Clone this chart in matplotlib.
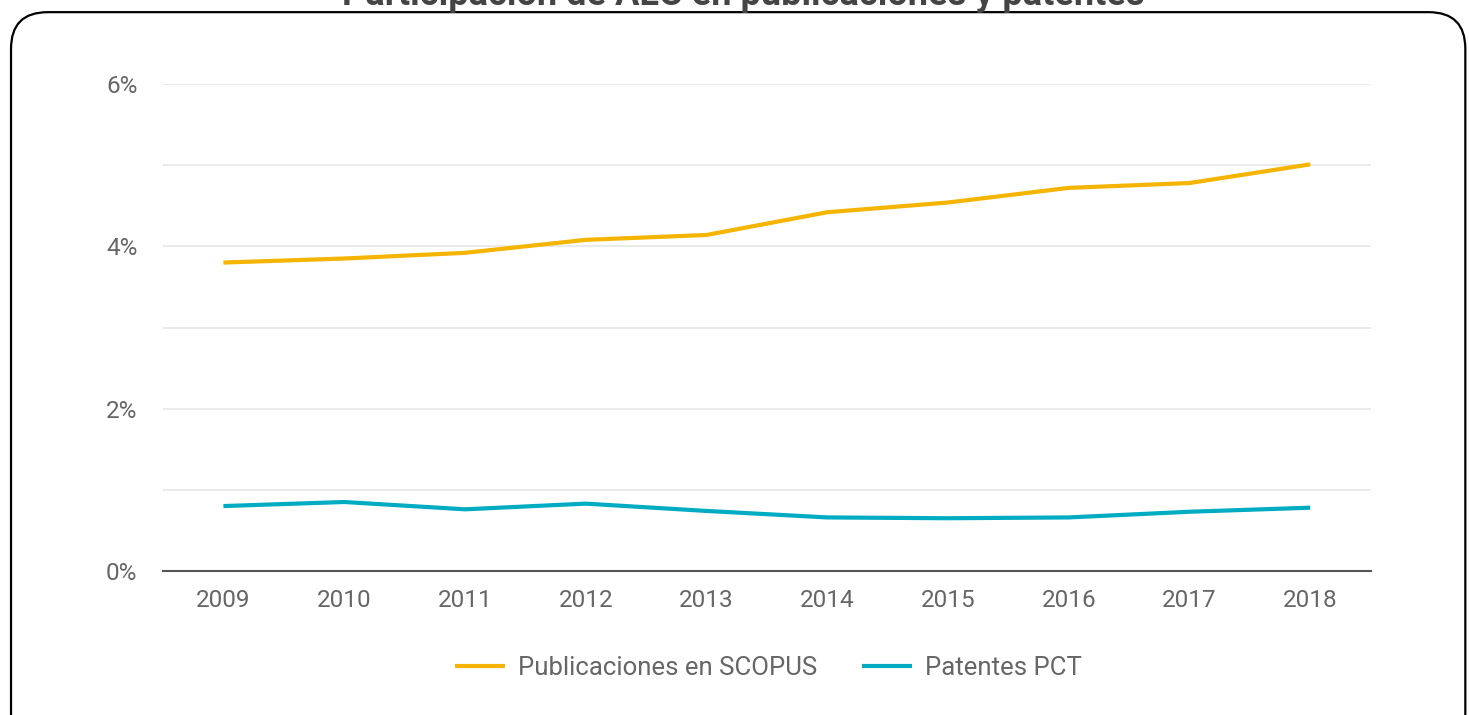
import matplotlib.pyplot as plt
from matplotlib.patches import FancyBboxPatch
from matplotlib.ticker import FuncFormatter

plt.rcParams['font.family'] = ['Roboto', 'DejaVu Sans']

years = ['2009', '2010', '2011', '2012', '2013', '2014', '2015', '2016', '2017', '2018']
scopus = [3.80, 3.85, 3.92, 4.08, 4.14, 4.42, 4.54, 4.72, 4.78, 5.01]
pct = [0.80, 0.85, 0.76, 0.83, 0.74, 0.66, 0.65, 0.66, 0.73, 0.78]

fig = plt.figure(figsize=(14.69, 7.15), dpi=100)
ax = fig.add_axes([0.111, 0.2014, 0.822, 0.6811])

x = range(len(years))
ax.plot(x, scopus, color='#F4B400', lw=3, label='Publicaciones en SCOPUS', solid_capstyle='butt')
ax.plot(x, pct, color='#00ACC1', lw=3, label='Patentes PCT', solid_capstyle='butt')

ax.set_xlim(-0.5, len(years) - 0.5)
ax.set_ylim(0, 6)
ax.set_xticks(list(x))
ax.set_xticklabels(years)
ax.set_yticks([0, 2, 4, 6])
ax.set_yticks([1, 3, 5], minor=True)
ax.yaxis.set_major_formatter(FuncFormatter(lambda v, p: f'{v:.0f}%'))
ax.grid(axis='y', which='both', color='#e6e6e6', lw=1.2)
ax.set_axisbelow(True)
ax.tick_params(axis='both', which='both', length=0, labelsize=17.5, labelcolor='#666666')
ax.tick_params(axis='x', pad=13)
ax.tick_params(axis='y', pad=18.5)
for s in ['top', 'right', 'left']:
    ax.spines[s].set_visible(False)
ax.spines['bottom'].set_color('#555555')
ax.spines['bottom'].set_linewidth(1.5)

leg = fig.legend(loc='center', bbox_to_anchor=(0.523, 0.066), ncol=2, frameon=False,
                 fontsize=18.5, handlelength=1.95, columnspacing=1.75, handletextpad=0.5)
for t in leg.get_texts():
    t.set_color('#666666')

fig.text(0.506, 0.993, 'Participación de ALC en publicaciones y patentes', ha='center', va='baseline',
         fontsize=26, fontweight='bold', color='#444444')

box = FancyBboxPatch((0.0075, -0.05), 0.990, 1.033, boxstyle='round,pad=0,rounding_size=0.025',
                     transform=fig.transFigure, fill=False, ec='black', lw=1.6, clip_on=False,
                     mutation_aspect=2.05)
fig.patches.append(box)

fig.savefig('out.png', dpi=100, facecolor='white')
